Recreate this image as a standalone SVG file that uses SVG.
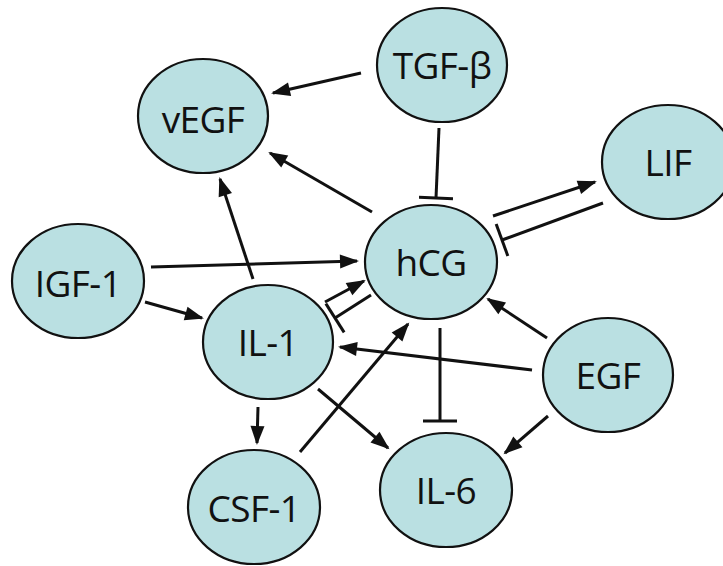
<svg xmlns="http://www.w3.org/2000/svg" width="723" height="566" viewBox="0 0 723 566">
<style>
.node ellipse{fill:#bae0e2;stroke:#111;stroke-width:2.2}
.node text{font-family:"Open Sans","Liberation Sans",sans-serif;font-size:37px;letter-spacing:-0.6px;fill:#111;text-anchor:middle}
.edge{stroke:#111;stroke-width:3;fill:none}
.act{marker-end:url(#arrow)}
.inh{marker-end:url(#tee)}
</style>
<defs>
<marker id="arrow" markerUnits="userSpaceOnUse" markerWidth="20" markerHeight="16" refX="17" refY="7" orient="auto" overflow="visible">
<path d="M0,0 L19,7 L0,14 z" fill="#111"/>
</marker>
<marker id="tee" markerUnits="userSpaceOnUse" markerWidth="6" markerHeight="36" refX="1.5" refY="17" orient="auto" overflow="visible">
<path d="M1.5,0 L1.5,34" stroke="#111" stroke-width="3"/>
</marker>
</defs>
<g id="connectors">
<line class="edge act" x1="361" y1="73" x2="273" y2="93"/>
<line class="edge act" x1="372" y1="212" x2="270" y2="153"/>
<line class="edge act" x1="253" y1="279" x2="220" y2="179"/>
<line class="edge act" x1="151" y1="267" x2="357" y2="261"/>
<line class="edge inh" x1="439" y1="128" x2="436" y2="198"/>
<line class="edge act" x1="493" y1="216" x2="595" y2="182"/>
<line class="edge inh" x1="603" y1="203" x2="502" y2="240"/>
<line class="edge act" x1="547" y1="338" x2="488" y2="299"/>
<line class="edge act" x1="145" y1="302" x2="202" y2="318"/>
<line class="edge act" x1="325" y1="302" x2="364" y2="281"/>
<line class="edge inh" x1="371" y1="295" x2="335" y2="318"/>
<line class="edge act" x1="258" y1="407" x2="257" y2="443"/>
<line class="edge act" x1="300" y1="452" x2="408" y2="324"/>
<line class="edge act" x1="318" y1="389" x2="388" y2="448"/>
<line class="edge act" x1="532" y1="370" x2="340" y2="347"/>
<line class="edge inh" x1="440" y1="328" x2="440" y2="421"/>
<line class="edge act" x1="548" y1="416" x2="505" y2="453"/>
</g>
<g id="TGF-beta" class="node"><ellipse cx="442" cy="65" rx="65" ry="57"/><text x="442" y="79">TGF-β</text></g>
<g id="vEGF" class="node"><ellipse cx="203" cy="116" rx="65" ry="57"/><text x="203" y="133">vEGF</text></g>
<g id="LIF" class="node"><ellipse cx="668" cy="162" rx="66" ry="57"/><text x="668" y="176">LIF</text></g>
<g id="hCG" class="node"><ellipse cx="431" cy="262" rx="66" ry="57"/><text x="431" y="276">hCG</text></g>
<g id="IGF-1" class="node"><ellipse cx="78" cy="281" rx="66" ry="57"/><text x="78" y="297">IGF-1</text></g>
<g id="IL-1" class="node"><ellipse cx="268" cy="342" rx="65" ry="57"/><text x="268" y="356">IL-1</text></g>
<g id="EGF" class="node"><ellipse cx="608" cy="375" rx="65" ry="57"/><text x="608" y="389">EGF</text></g>
<g id="CSF-1" class="node"><ellipse cx="254" cy="507" rx="66" ry="57"/><text x="254" y="522">CSF-1</text></g>
<g id="IL-6" class="node"><ellipse cx="446" cy="490" rx="66" ry="57"/><text x="446" y="504">IL-6</text></g>
</svg>
